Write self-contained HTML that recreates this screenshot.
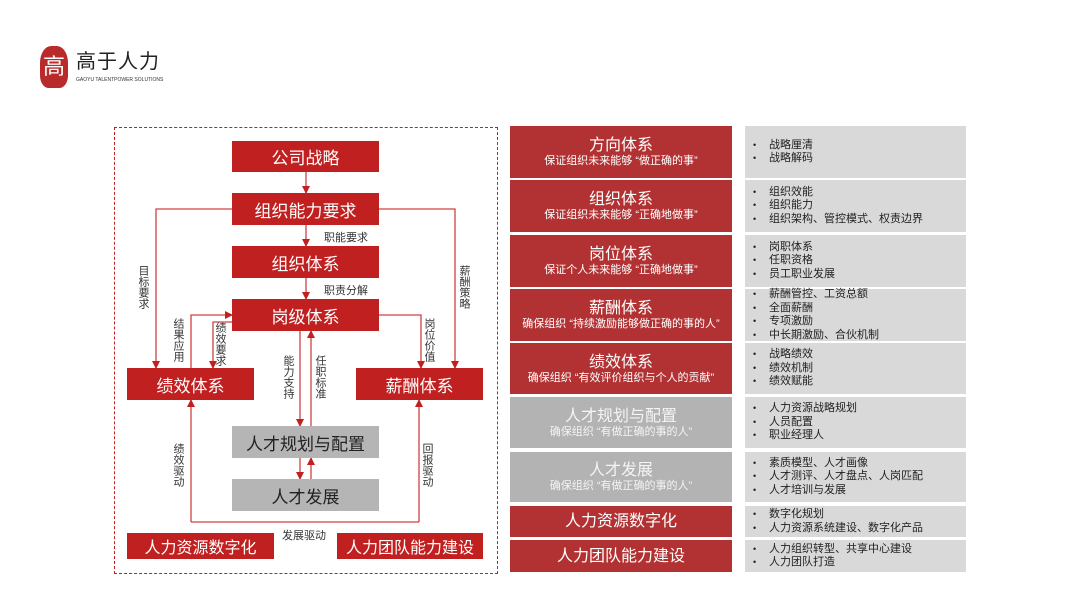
<!DOCTYPE html>
<html><head><meta charset="utf-8"><style>
*{margin:0;padding:0;box-sizing:border-box}
body{width:1080px;height:608px;background:#fff;position:relative;overflow:hidden;font-family:"Liberation Sans","Noto Sans CJK SC",sans-serif}
.a{position:absolute}
.r{background:#c0201f;color:#fff;display:flex;align-items:center;justify-content:center;font-size:17px}
.g{background:#b5b5b5;color:#222;display:flex;align-items:center;justify-content:center;font-size:17px}
.v{position:absolute;writing-mode:vertical-rl;font-size:11px;color:#333;line-height:12px;letter-spacing:0}
.lb{position:absolute;font-size:11px;color:#333}
.rr{position:absolute;left:510px;width:222px;background:#b23233;color:#fff;text-align:center;display:flex;flex-direction:column;justify-content:center;align-items:center}
.rg{background:#b3b3b3;color:#f4f4f4}
.t{font-size:16px;line-height:19px}
.s{font-size:11px;line-height:13px}
.rb{position:absolute;left:745px;width:221px;background:#d9d9d9;color:#222;font-size:11px;line-height:13.5px;display:flex;flex-direction:column;justify-content:center;padding-left:8px}
.rb div:before{content:"•";display:inline-block;width:16px;font-size:9px}
</style></head><body>
<div class="a" style="left:40px;top:46px;width:28px;height:42px;background:#b92a2a;border-radius:40% 40% 30% 30%;color:#fff;font-size:22px;line-height:42px;text-align:center">高</div>
<div class="a" style="left:76px;top:51px;font-size:20px;color:#222;letter-spacing:1px;line-height:22px">高于人力</div>
<div class="a" style="left:76px;top:77px;font-size:5px;color:#333;line-height:6px">GAOYU TALENTPOWER SOLUTIONS</div>

<div class="a" style="left:114px;top:127px;width:384px;height:447px;border:1px dashed #c0201f"></div>
<svg class="a" style="left:0;top:0" width="1080" height="608">
<defs><marker id="m" markerWidth="8" markerHeight="8" refX="7" refY="4" orient="auto" markerUnits="userSpaceOnUse"><path d="M0,0L8,4L0,8z" fill="#c0201f"/></marker></defs>
<g stroke="#d04040" stroke-width="1.3" fill="none">
<path d="M306,172V193" marker-end="url(#m)"/>
<path d="M306,225V246" marker-end="url(#m)"/>
<path d="M306,278V299" marker-end="url(#m)"/>
<path d="M232,209H156V368" marker-end="url(#m)"/>
<path d="M379,209H455V368" marker-end="url(#m)"/>
<path d="M191,368V315H232" marker-end="url(#m)"/>
<path d="M232,322H213V368" marker-end="url(#m)"/>
<path d="M379,315H421V368" marker-end="url(#m)"/>
<path d="M300,331V426" marker-end="url(#m)"/>
<path d="M311,426V331" marker-end="url(#m)"/>
<path d="M300,458V479" marker-end="url(#m)"/>
<path d="M311,479V458" marker-end="url(#m)"/>
<path d="M191,522V400" marker-end="url(#m)"/>
<path d="M419,522V400" marker-end="url(#m)"/>
<path d="M191,522H419"/>
</g></svg>
<div class="a r" style="left:232px;top:141px;width:147px;height:31px">公司战略</div>
<div class="a r" style="left:232px;top:193px;width:147px;height:32px">组织能力要求</div>
<div class="a r" style="left:232px;top:246px;width:147px;height:32px">组织体系</div>
<div class="a r" style="left:232px;top:299px;width:147px;height:32px">岗级体系</div>
<div class="a r" style="left:127px;top:368px;width:127px;height:32px">绩效体系</div>
<div class="a r" style="left:356px;top:368px;width:127px;height:32px">薪酬体系</div>
<div class="a g" style="left:232px;top:426px;width:147px;height:32px">人才规划与配置</div>
<div class="a g" style="left:232px;top:479px;width:147px;height:32px">人才发展</div>
<div class="a r" style="left:127px;top:533px;width:147px;height:26px;font-size:16px">人力资源数字化</div>
<div class="a r" style="left:337px;top:533px;width:146px;height:26px;font-size:16px">人力团队能力建设</div>
<div class="lb" style="left:324px;top:229px">职能要求</div>
<div class="lb" style="left:324px;top:282px">职责分解</div>
<div class="lb" style="left:282px;top:527px">发展驱动</div>
<div class="v" style="left:137px;top:265px">目标要求</div>
<div class="v" style="left:172px;top:318px">结果应用</div>
<div class="v" style="left:214px;top:322px">绩效要求</div>
<div class="v" style="left:458px;top:265px">薪酬策略</div>
<div class="v" style="left:423px;top:318px">岗位价值</div>
<div class="v" style="left:282px;top:355px">能力支持</div>
<div class="v" style="left:314px;top:355px">任职标准</div>
<div class="v" style="left:172px;top:443px">绩效驱动</div>
<div class="v" style="left:421px;top:443px">回报驱动</div>

<div class="rr" style="top:126px;height:52px"><div class="t">方向体系</div><div class="s">保证组织未来能够 “做正确的事”</div></div>
<div class="rr" style="top:180px;height:52px"><div class="t">组织体系</div><div class="s">保证组织未来能够 “正确地做事”</div></div>
<div class="rr" style="top:235px;height:52px"><div class="t">岗位体系</div><div class="s">保证个人未来能够 “正确地做事”</div></div>
<div class="rr" style="top:289px;height:52px"><div class="t">薪酬体系</div><div class="s">确保组织 “持续激励能够做正确的事的人”</div></div>
<div class="rr" style="top:343px;height:51px"><div class="t">绩效体系</div><div class="s">确保组织 “有效评价组织与个人的贡献”</div></div>
<div class="rr rg" style="top:397px;height:51px"><div class="t">人才规划与配置</div><div class="s">确保组织 “有做正确的事的人”</div></div>
<div class="rr rg" style="top:452px;height:50px"><div class="t">人才发展</div><div class="s">确保组织 “有做正确的事的人”</div></div>
<div class="rr" style="top:506px;height:31px"><div class="t">人力资源数字化</div></div>
<div class="rr" style="top:540px;height:32px"><div class="t">人力团队能力建设</div></div>

<div class="rb" style="top:126px;height:52px"><div>战略厘清</div><div>战略解码</div></div>
<div class="rb" style="top:180px;height:52px"><div>组织效能</div><div>组织能力</div><div>组织架构、管控模式、权责边界</div></div>
<div class="rb" style="top:235px;height:52px"><div>岗职体系</div><div>任职资格</div><div>员工职业发展</div></div>
<div class="rb" style="top:289px;height:52px"><div>薪酬管控、工资总额</div><div>全面薪酬</div><div>专项激励</div><div>中长期激励、合伙机制</div></div>
<div class="rb" style="top:343px;height:51px"><div>战略绩效</div><div>绩效机制</div><div>绩效赋能</div></div>
<div class="rb" style="top:397px;height:51px"><div>人力资源战略规划</div><div>人员配置</div><div>职业经理人</div></div>
<div class="rb" style="top:452px;height:50px"><div>素质模型、人才画像</div><div>人才测评、人才盘点、人岗匹配</div><div>人才培训与发展</div></div>
<div class="rb" style="top:506px;height:31px"><div>数字化规划</div><div>人力资源系统建设、数字化产品</div></div>
<div class="rb" style="top:540px;height:32px"><div>人力组织转型、共享中心建设</div><div>人力团队打造</div></div>
</body></html>
